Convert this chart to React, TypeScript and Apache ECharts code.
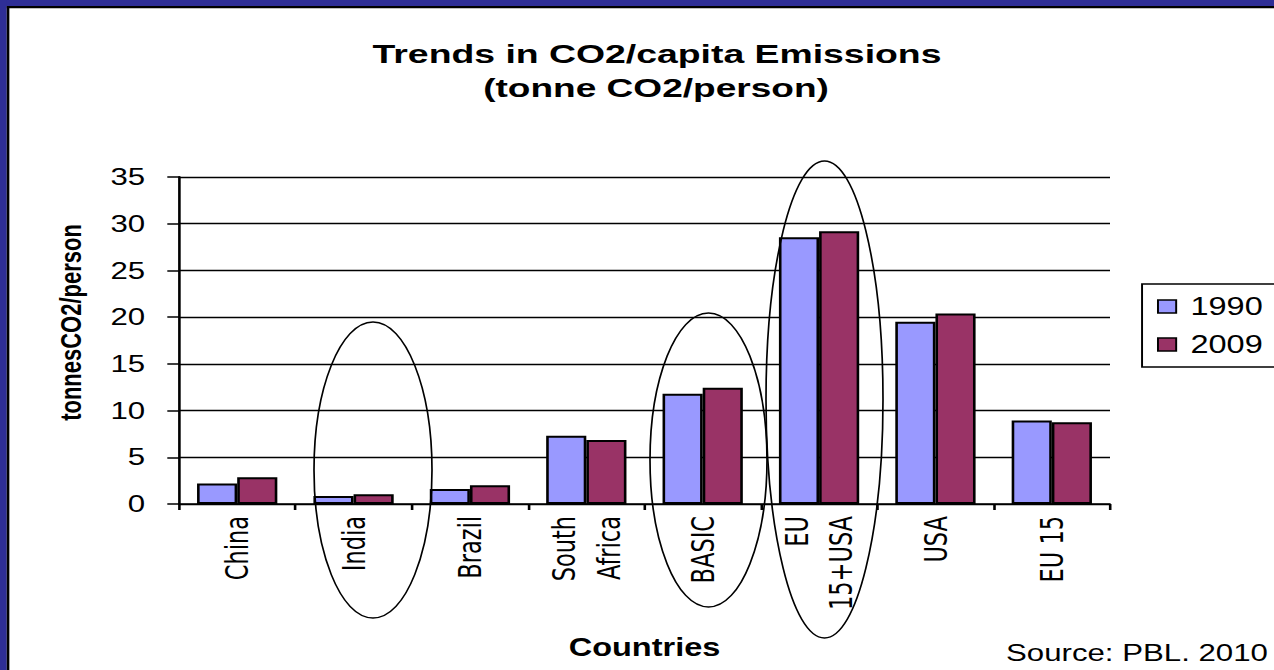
import React, { useEffect, useRef } from "react";
import * as echarts from "echarts";

// ---- data ----
const categories = ["China", "India", "Brazil", "South\nAfrica", "BASIC", "EU\n15+USA", "USA", "EU 15"];
const values1990 = [2.2, 0.85, 1.6, 7.3, 11.8, 28.55, 19.5, 8.95];
const values2009 = [2.85, 1.05, 2.0, 6.85, 12.45, 29.2, 20.4, 8.75];
const seriesNames = ["1990", "2009"];
const yTicks = { min: 0, max: 35, interval: 5 };
const titleText = "Trends in CO2/capita Emissions";
const subtitleText = "(tonne CO2/person)";
const sourceText = "Source: PBL. 2010";

// the reference picture is horizontally stretched
const S = 1.3;
const W = 1274 / S;
const H = 670;

const FONT = "'Liberation Sans', Arial, sans-serif";
const NARROW = "'Liberation Sans Narrow', 'DejaVu Sans Condensed', 'Arial Narrow', sans-serif";

export default function App() {
  const ref = useRef<HTMLDivElement>(null);

  useEffect(() => {
    if (!ref.current) return;
    const chart = echarts.init(ref.current, null, { renderer: "svg" });
    const option: any = {
      animation: false,
      backgroundColor: "#ffffff",
      textStyle: { fontFamily: FONT, color: "#000" },
      legend: {
        orient: "vertical",
        left: 878.5,
        top: 284,
        data: seriesNames,
        icon: "rect",
        itemWidth: 14,
        itemHeight: 13,
        itemGap: 13,
        padding: [10, 20, 10, 11.5],
        borderColor: "#000",
        borderWidth: 1.5,
        itemStyle: { borderColor: "#000", borderWidth: 1.5 },
        textStyle: { fontFamily: FONT, fontSize: 25, color: "#000", padding: [0, 0, 0, 6] },
      },
      grid: { left: 179 / S, right: W - 1110 / S, top: 177, bottom: H - 504, containLabel: false },
      xAxis: {
        type: "category",
        data: categories,
        boundaryGap: true,
        name: "Countries",
        nameLocation: "middle",
        nameGap: 131,
        nameTextStyle: { fontFamily: FONT, fontSize: 25, fontWeight: "bold", color: "#000" },
        axisLine: { lineStyle: { color: "#000", width: 1.5 } },
        axisTick: { show: true, interval: 0, length: 6, lineStyle: { color: "#000", width: 2 } },
        axisLabel: {
          interval: 0,
          rotate: 90,
          margin: 12,
          fontFamily: NARROW,
          fontSize: 25,
          color: "#000",
          lineHeight: 34,
        },
      },
      yAxis: {
        type: "value",
        min: yTicks.min,
        max: yTicks.max,
        interval: yTicks.interval,
        name: "tonnesCO2/person",
        nameLocation: "middle",
        nameGap: 72,
        nameTextStyle: { fontFamily: FONT, fontSize: 22, fontWeight: "bold", color: "#000", padding: [0, 0, 0, 36] },
        axisLine: { show: true, lineStyle: { color: "#000", width: 2 } },
        axisTick: { show: true, length: 9, lineStyle: { color: "#000", width: 1.5 } },
        axisLabel: { margin: 26, fontFamily: FONT, fontSize: 24, color: "#000" },
        splitLine: { show: true, lineStyle: { color: "#000", width: 1.4 } },
      },
      series: [
        {
          name: seriesNames[0],
          type: "bar",
          data: values1990,
          barGap: "0%",
          barCategoryGap: "31%",
          itemStyle: { color: "#9999ff", borderColor: "#000", borderWidth: 2 },
        },
        {
          name: seriesNames[1],
          type: "bar",
          data: values2009,
          barGap: "0%",
          barCategoryGap: "31%",
          itemStyle: { color: "#993366", borderColor: "#000", borderWidth: 2 },
        },
      ],
      graphic: [
        // frame
        { type: "rect", shape: { x: 0, y: 0, width: W, height: 6 }, style: { fill: "#2e2e96" }, z: 200 },
        { type: "rect", shape: { x: 0, y: 0, width: 5.2, height: H }, style: { fill: "#2e2e96" }, z: 200 },
        { type: "rect", shape: { x: 5.2, y: 6, width: W, height: 2.2 }, style: { fill: "#000" }, z: 200 },
        { type: "rect", shape: { x: 5.2, y: 6, width: 2, height: H }, style: { fill: "#000" }, z: 200 },
        // titles
        {
          type: "text",
          x: 657 / S,
          y: 54,
          scaleX: 1.15,
          style: { text: titleText, fontFamily: FONT, fontSize: 25, fontWeight: "bold", fill: "#000", align: "center", verticalAlign: "middle" },
          z: 100,
        },
        {
          type: "text",
          x: 656 / S,
          y: 88,
          scaleX: 1.14,
          style: { text: subtitleText, fontFamily: FONT, fontSize: 25, fontWeight: "bold", fill: "#000", align: "center", verticalAlign: "middle" },
          z: 100,
        },
        // annotation ellipses
        { type: "ellipse", shape: { cx: 373 / S, cy: 470, rx: 59 / S, ry: 148 }, style: { fill: "none", stroke: "#000", lineWidth: 1.3 }, z: 100 },
        { type: "ellipse", shape: { cx: 708.5 / S, cy: 460, rx: 58.5 / S, ry: 147 }, style: { fill: "none", stroke: "#000", lineWidth: 1.3 }, z: 100 },
        { type: "ellipse", shape: { cx: 824.5 / S, cy: 399.5, rx: 58.5 / S, ry: 238.5 }, style: { fill: "none", stroke: "#000", lineWidth: 1.3 }, z: 100 },
        // source
        {
          type: "text",
          x: 1006 / S,
          y: 653,
          style: { text: sourceText, fontFamily: FONT, fontSize: 24, fill: "#000", verticalAlign: "middle", align: "left" },
          z: 100,
        },
      ],
    };
    chart.setOption(option);
    return () => chart.dispose();
  }, []);

  return (
    <div style={{ position: "fixed", left: 0, top: 0, width: 1274, height: H, overflow: "hidden", background: "#fff" }}>
      <div
        ref={ref}
        style={{ width: W, height: H, transform: `scaleX(${S})`, transformOrigin: "0 0" }}
      />
    </div>
  );
}
